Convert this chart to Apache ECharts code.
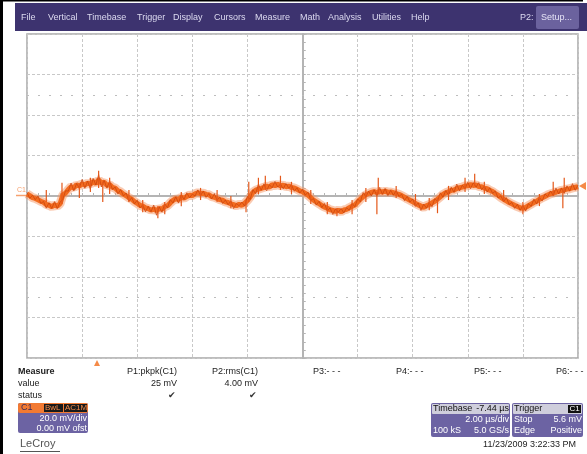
<!DOCTYPE html>
<html>
<head>
<meta charset="utf-8">
<script src="https://cdn.jsdelivr.net/npm/echarts@6/dist/echarts.min.js"></script>
<style>
  html, body { margin: 0; padding: 0; background: #fff; }
  #scope { width: 587px; height: 454px; }
</style>
</head>
<body>
<div id="scope"></div>
<script>
  // C1 trace, mV, one sample every 0.1 us from -10 us to +10 us
  var traceStep = 0.1;
  var traceStart = -10;
  var traceMv = [
    1.0, 0.2, -0.8, -1.2, -1.9, -2.6, -3.1, -4.2, -4.6, -5.3,
    -4.4, -5.0, -3.8, 0.5, 1.5, 3.2, 4.6, 4.0, 5.6, 4.9,
    6.0, 5.5, 6.4, 5.8, 7.2, 6.1, 8.0, 6.4, 6.8, 5.2,
    5.6, 4.3, 3.9, 2.6, 2.0, 0.9, 0.1, -0.9, -1.6, -2.8,
    -3.6, -4.6, -5.0, -5.9, -6.2, -7.0, -6.4, -7.3, -6.1, -6.6,
    -5.2, -4.8, -3.4, -2.2, -1.3, -1.8, -0.6, -1.1, -0.2, 0.4,
    0.2, 1.1, 1.6, 1.2, 1.4, 0.8, 0.6, -0.3, -0.6, -1.2,
    -1.8, -2.1, -2.9, -3.2, -3.9, -4.3, -4.8, -4.1, -4.6, -3.6,
    -2.2, -0.5, 1.8, 2.9, 3.4, 3.8, 4.3, 4.9, 4.4, 5.6,
    5.1, 5.8, 5.0, 5.4, 4.6, 4.9, 4.2, 4.0, 3.3, 2.6,
    2.1, 1.3, 0.4, -0.8, -2.0, -2.9, -3.8, -4.7, -5.5, -6.0,
    -6.8, -7.1, -7.6, -7.0, -7.8, -6.9, -6.6, -5.8, -5.1, -4.4,
    -3.0, -1.6, -0.4, 0.6, 1.2, 1.8, 2.2, 1.6, 2.3, 1.9,
    2.4, 1.8, 2.0, 1.6, 1.2, 0.8, 0.2, -0.6, -1.4, -2.1,
    -2.8, -3.6, -4.4, -5.0, -5.6, -4.8, -4.2, -3.4, -2.6, -1.6,
    -0.4, 0.8, 1.6, 2.1, 2.8, 3.0, 3.7, 4.1, 4.4, 4.9,
    5.0, 5.6, 5.2, 5.5, 4.7, 4.6, 3.9, 3.6, 2.8, 2.2,
    1.2, 0.4, -0.7, -1.6, -2.4, -3.2, -3.9, -4.6, -5.2, -5.8,
    -6.1, -5.6, -4.8, -4.0, -3.2, -2.6, -1.6, -0.9, -0.2, 0.5,
    1.1, 1.4, 2.0, 2.3, 2.8, 3.0, 3.4, 3.6, 4.0, 4.3,
    4.6
  ];
  // fine ripple riding on the trace, mV, same sample grid
  var rippleMv = [
    0.8, -1.4, 1.2, -0.6, 1.9, -1.1, 0.4, -1.8, 1.3, -0.9,
    1.6, -1.2, 0.7, -2.1, 1.1, -0.8, 1.8, -1.5, 0.6, -1.0,
    2.2, -1.7, 1.0, -2.4, 1.5, -0.7, 2.6, -1.9, 0.9, -1.3,
    1.7, -1.0, 0.5, -1.6, 1.2, -0.9, 1.4, -1.8, 0.8, -1.1,
    1.5, -1.3, 0.6, -1.9, 1.1, -0.8, 1.9, -2.2, 0.7, -1.4,
    1.3, -1.0, 1.6, -1.2, 0.9, -1.7, 1.2, -0.6, 1.8, -1.3,
    0.7, -1.1, 1.4, -0.9, 1.0, -1.5, 0.6, -1.2, 1.7, -0.8,
    1.2, -1.6, 0.9, -1.1, 1.5, -1.9, 1.1, -0.7, 1.6, -1.4,
    2.0, -1.2, 1.3, -1.8, 2.4, -1.0, 1.7, -2.3, 1.2, -1.6,
    2.1, -1.4, 0.9, -1.9, 1.6, -1.1, 1.4, -1.7, 0.8, -1.2,
    1.1, -0.9, 1.5, -1.3, 0.7, -1.6, 1.2, -1.0, 1.8, -1.4,
    0.9, -2.0, 1.3, -1.1, 1.7, -1.5, 0.8, -1.2, 1.4, -0.9,
    1.6, -1.3, 2.1, -1.0, 1.2, -1.8, 0.9, -1.4, 1.9, -1.1,
    1.3, -1.6, 0.8, -1.2, 1.5, -1.0, 0.7, -1.7, 1.2, -0.9,
    1.4, -1.5, 1.0, -2.1, 1.6, -1.2, 0.9, -1.9, 1.3, -1.0,
    2.0, -1.4, 1.1, -1.8, 1.5, -1.2, 2.2, -1.6, 0.9, -1.3,
    1.8, -2.0, 1.4, -1.1, 1.9, -1.5, 1.0, -1.7, 1.3, -0.9,
    1.2, -1.4, 0.8, -1.2, 1.6, -1.0, 0.7, -1.5, 1.1, -1.3,
    1.5, -1.8, 1.0, -1.1, 1.7, -1.4, 0.9, -1.6, 1.2, -0.8,
    1.4, -1.1, 1.9, -1.3, 1.0, -1.7, 1.6, -1.2, 2.1, -1.5,
    0.8
  ];

  // glitches on the trace: [time us, low mV, high mV]
  var spikes = [
    [-9.3, -3, 3], [-8.73, -4, 6.5], [-8.1, -1, 6], [-7.7, 2, 9], [-7.4, 4, 12.5], [-7.25, -3, 7],
    [-7.0, 1, 9], [-6.3, -3, 3], [-5.8, -8, -2], [-5.25, -11, -5], [-5.0, -9, -3], [-4.4, -5, 2],
    [-3.7, -2, 4], [-3.1, -3, 3], [-2.6, -6, 0], [-2.05, -8, -2], [-1.95, -3, 7], [-1.6, 1, 9],
    [-1.35, 3, 10], [-0.8, 3, 10], [-0.4, 1, 7], [0.3, -4, 3], [0.9, -9, -3], [1.25, -10, -6],
    [1.8, -9, -2], [2.3, -3, 4], [2.7, -9, 2], [2.75, 1, 9], [3.4, -1, 5], [4.1, -5, 1],
    [4.6, -7, -1], [4.9, -8.5, -1], [5.3, -2, 5], [5.9, 2, 9], [6.25, 5, 11], [6.6, 1, 7],
    [7.3, -3, 3], [8.0, -9, -3], [8.6, -5, 1], [9.1, 0, 7], [9.45, -6, 3], [9.5, 2, 9]
  ];

  var menuItems = ['File', 'Vertical', 'Timebase', 'Trigger', 'Display', 'Cursors', 'Measure', 'Math', 'Analysis', 'Utilities', 'Help'];
  var menuX = [21, 48, 87, 137, 173, 214, 255, 300, 328, 372, 411];

  var paramNames = ['P1:pkpk(C1)', 'P2:rms(C1)'];
  var paramValues = ['25 mV', '4.00 mV'];
  var emptyParams = ['P3:- - -', 'P4:- - -', 'P5:- - -', 'P6:- - -'];

  var FONT = '"Liberation Sans", Arial, sans-serif';
  var PURPLE = '#6c63a3';

  var traceData = traceMv.map(function (v, i) {
    return [traceStart + i * traceStep, v];
  });
  var noisyData = traceMv.map(function (v, i) {
    return [traceStart + i * traceStep, v + rippleMv[i]];
  });

  function txt(x, y, s, o) {
    o = o || {};
    return {
      type: 'text', x: x, y: y, silent: true, z: 10,
      style: {
        text: s, fill: o.fill || '#222', textAlign: o.align || 'left',
        textVerticalAlign: 'middle',
        font: (o.weight || 'normal') + ' ' + (o.size || 9) + 'px ' + FONT
      }
    };
  }
  function box(x, y, w, h, fill, r) {
    return {
      type: 'rect', silent: true, z: 5,
      shape: { x: x, y: y, width: w, height: h, r: r || 0 },
      style: { fill: fill }
    };
  }

  var g = [];
  // frame and menu bar
  g.push(box(0, 0, 583, 1.5, '#000'));
  g.push(box(0, 0, 3, 454, '#000'));
  g.push(box(15, 3, 572, 28, '#3d336f'));
  menuItems.forEach(function (m, i) {
    g.push(txt(menuX[i], 18, m, { fill: '#dcdaf0' }));
  });
  g.push(txt(520, 18, 'P2:', { fill: '#dcdaf0' }));
  g.push(box(536, 6, 43, 23, '#6b629e', 2));
  g.push(txt(541, 18, 'Setup...', { fill: '#e6e4f6' }));

  // channel marker on the left
  g.push(txt(17, 190, 'C1', { fill: '#f6a06e', size: 7 }));
  g.push({ type: 'line', silent: true, shape: { x1: 16, y1: 195.5, x2: 27, y2: 195.5 }, style: { stroke: '#f6a06e', lineWidth: 1.5 } });
  // trigger position and level markers
  g.push({ type: 'polygon', silent: true, shape: { points: [[94, 366], [100, 366], [97, 360]] }, style: { fill: '#f58a48' } });
  g.push({ type: 'polygon', silent: true, shape: { points: [[579, 186], [586, 182], [586, 190]] }, style: { fill: '#f58a48' } });

  // measure table
  g.push(txt(18, 372, 'Measure', { weight: 'bold' }));
  g.push(txt(18, 384, 'value'));
  g.push(txt(18, 396, 'status'));
  g.push(txt(177, 372, paramNames[0], { align: 'right' }));
  g.push(txt(258, 372, paramNames[1], { align: 'right' }));
  g.push(txt(177, 384, paramValues[0], { align: 'right' }));
  g.push(txt(258, 384, paramValues[1], { align: 'right' }));
  g.push(txt(176, 396, '\u2714', { align: 'right', fill: '#333' }));
  g.push(txt(257, 396, '\u2714', { align: 'right', fill: '#333' }));
  [313, 396, 474, 556].forEach(function (x, i) {
    g.push(txt(x, 372, emptyParams[i]));
  });

  // C1 descriptor box
  g.push(box(18, 403, 70, 30, PURPLE, 2));
  g.push(box(18, 403, 70, 10, '#f27a33', 2));
  g.push(txt(21, 408, 'C1', { fill: '#3a2d5a' }));
  g.push(box(44, 404, 19, 8, '#1a1a1a'));
  g.push(txt(45, 408, 'BwL', { fill: '#f58a48', size: 8 }));
  g.push(box(64, 404, 23, 8, '#1a1a1a'));
  g.push(txt(65, 408, 'AC1M', { fill: '#f58a48', size: 8 }));
  g.push(txt(87, 419, '20.0 mV/div', { align: 'right', fill: '#fff' }));
  g.push(txt(87, 429, '0.00 mV ofst', { align: 'right', fill: '#fff' }));
  g.push(txt(20, 444, 'LeCroy', { fill: '#555', size: 11 }));
  g.push(box(20, 451, 40, 1, '#555'));

  // timebase box
  g.push(box(431, 403, 79, 34, PURPLE, 2));
  g.push(box(432, 404, 77, 10, '#cfcedc', 1));
  g.push(txt(433, 409, 'Timebase', { fill: '#111' }));
  g.push(txt(509, 409, '-7.44 \u00b5s', { align: 'right', fill: '#111' }));
  g.push(txt(509, 420, '2.00 \u00b5s/div', { align: 'right', fill: '#fff' }));
  g.push(txt(433, 431, '100 kS', { fill: '#fff' }));
  g.push(txt(509, 431, '5.0 GS/s', { align: 'right', fill: '#fff' }));
  // trigger box
  g.push(box(512, 403, 71, 34, PURPLE, 2));
  g.push(box(513, 404, 69, 10, '#cfcedc', 1));
  g.push(txt(514, 409, 'Trigger', { fill: '#111' }));
  g.push(box(568, 405, 13, 8, '#111'));
  g.push(txt(574.5, 409, 'C1', { align: 'center', fill: '#fff', size: 8 }));
  g.push(txt(514, 420, 'Stop', { fill: '#fff' }));
  g.push(txt(582, 420, '5.6 mV', { align: 'right', fill: '#fff' }));
  g.push(txt(514, 431, 'Edge', { fill: '#fff' }));
  g.push(txt(582, 431, 'Positive', { align: 'right', fill: '#fff' }));
  g.push(txt(576, 445, '11/23/2009 3:22:33 PM', { align: 'right', fill: '#222' }));

  function centerAxis(inside, split) {
    return {
      type: 'value', min: -10, max: 10, interval: 2,
      axisLabel: { show: false },
      axisLine: { onZero: true, lineStyle: { color: '#b4b4b4', width: 2 } },
      axisTick: { show: true, inside: inside, length: 3, lineStyle: { color: '#b4b4b4' } },
      minorTick: { show: true, splitNumber: 5, length: 3, lineStyle: { color: '#b4b4b4' } },
      splitLine: { show: split, lineStyle: { color: '#c8c8c8', type: [3, 2] } }
    };
  }
  function centerYAxis(inside, split) {
    var a = centerAxis(inside, split);
    a.min = -80; a.max = 80; a.interval = 20;
    return a;
  }

  var chart = echarts.init(document.getElementById('scope'), null, { renderer: 'canvas' });
  chart.setOption({
    animation: false,
    backgroundColor: '#fff',
    grid: { left: 27, top: 34, width: 551, height: 324, show: true, borderColor: '#a8a8a8', borderWidth: 1.5 },
    xAxis: [centerAxis(true, true), centerAxis(false, false)],
    yAxis: [centerYAxis(true, true), centerYAxis(false, false)],
    graphic: g,
    series: [
      {
        type: 'line', data: traceData, symbol: 'none', z: 3,
        lineStyle: { color: 'rgba(246,150,100,0.5)', width: 9 },
        markLine: {
          silent: true, symbol: 'none', label: { show: false },
          lineStyle: { color: '#bdbdbd', type: [2, 9], width: 1 },
          data: [{ yAxis: 50 }, { yAxis: -50 }]
        }
      },
      {
        type: 'line', data: traceData, symbol: 'none', z: 4,
        lineStyle: { color: '#f26b1f', width: 5 }
      },
      {
        type: 'line', data: noisyData, symbol: 'none', z: 5,
        lineStyle: { color: '#c9430b', width: 1, opacity: 0.75 }
      },
      {
        type: 'custom', z: 6,
        data: spikes,
        renderItem: function (params, api) {
          var p1 = api.coord([api.value(0), api.value(1)]);
          var p2 = api.coord([api.value(0), api.value(2)]);
          return {
            type: 'line',
            shape: { x1: p1[0], y1: p1[1], x2: p2[0], y2: p2[1] },
            style: { stroke: '#e4581a', lineWidth: 1.2 }
          };
        }
      }
    ]
  });
</script>
</body>
</html>
